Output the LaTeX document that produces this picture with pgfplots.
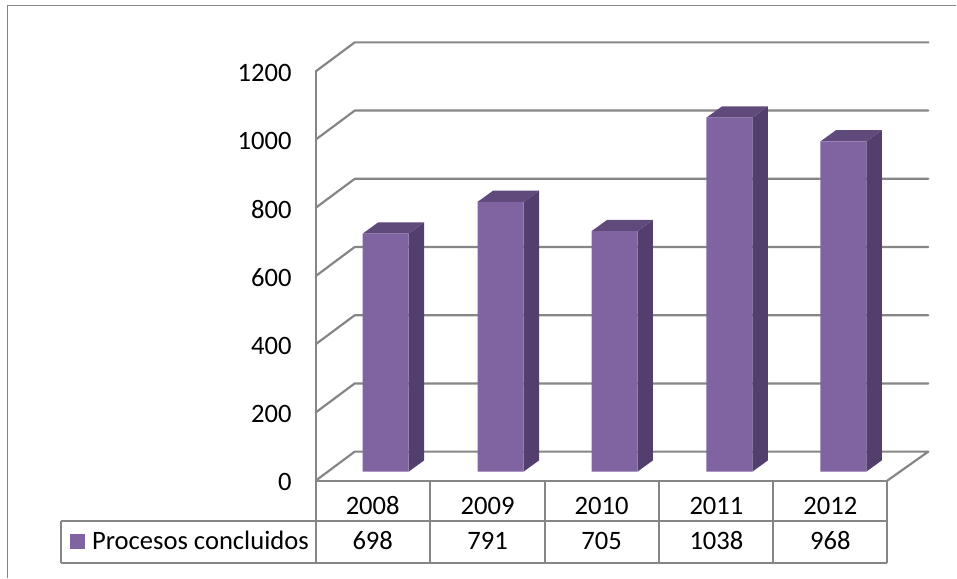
\documentclass[border=0pt]{standalone}
\usepackage{fontspec}
\setmainfont{Carlito}
\usepackage{pgfplots}
\pgfplotsset{compat=1.18}
\definecolor{barfront}{HTML}{8064A2}
\definecolor{bartop}{HTML}{604A7B}
\definecolor{barside}{HTML}{523F6D}
\definecolor{wall}{HTML}{868686}
\tikzset{
    wallline/.style={draw=wall, line width=2.2pt, line cap=round, line join=round},
    cell/.style={draw=wall, line width=2pt},
    lab/.style={anchor=base, inner sep=0pt},
}
\begin{document}
\begin{tikzpicture}
% x in picture units; y is the value, 0 at the foot of the bars
\begin{axis}[
    scale only axis, width=957pt, height=578pt,
    xmin=0, xmax=957, ymin=-310.6, ymax=1382.9,
    axis line style={draw=none},
    xtick=\empty,
    ytick={-26.4,173.6,373.6,573.6,773.6,973.6,1173.6},
    yticklabels={0,200,400,600,800,1000,1200},
    major tick length=0pt,
    tick style={draw=none},
    yticklabel style={xshift=292pt, yshift=-1.5pt, inner sep=0pt, anchor=east},
    font=\fontsize{26.6}{31}\selectfont,
    /pgf/number format/assume math mode=true,
    clip=false,
]
% outer frame
\addplot[draw=wall, line width=1.5pt] coordinates {(7.5,-310.6) (7.5,1366.8) (957,1366.8)};
% walls and gridlines
\addplot[wallline] coordinates {(316,-26.4) (316,1173.6)};
\addplot[wallline] coordinates {(316,-26.4) (355,58.6) (929,58.6) (888,-26.4)};
\addplot[wallline] coordinates {(316,173.6) (355,258.6) (929,258.6)};
\addplot[wallline] coordinates {(316,373.6) (355,458.6) (929,458.6)};
\addplot[wallline] coordinates {(316,573.6) (355,658.6) (929,658.6)};
\addplot[wallline] coordinates {(316,773.6) (355,858.6) (929,858.6)};
\addplot[wallline] coordinates {(316,973.6) (355,1058.6) (929,1058.6)};
\addplot[wallline] coordinates {(316,1173.6) (355,1258.6) (929,1258.6)};
% bar sides
\addplot[fill=barside, draw=none] coordinates {(409,0) (409,698) (424.5,731) (424.5,33)} --cycle;
\addplot[fill=barside, draw=none] coordinates {(524,0) (524,791) (539.5,824) (539.5,33)} --cycle;
\addplot[fill=barside, draw=none] coordinates {(638,0) (638,705) (653.5,738) (653.5,33)} --cycle;
\addplot[fill=barside, draw=none] coordinates {(753,0) (753,1038) (768.5,1071) (768.5,33)} --cycle;
\addplot[fill=barside, draw=none] coordinates {(867,0) (867,968) (882.5,1001) (882.5,33)} --cycle;
% bar tops
\addplot[fill=bartop, draw=none] coordinates {(363,698) (409,698) (424.5,731) (378.5,731)} --cycle;
\addplot[fill=bartop, draw=none] coordinates {(478,791) (524,791) (539.5,824) (493.5,824)} --cycle;
\addplot[fill=bartop, draw=none] coordinates {(592,705) (638,705) (653.5,738) (607.5,738)} --cycle;
\addplot[fill=bartop, draw=none] coordinates {(707,1038) (753,1038) (768.5,1071) (722.5,1071)} --cycle;
\addplot[fill=bartop, draw=none] coordinates {(821,968) (867,968) (882.5,1001) (836.5,1001)} --cycle;
% bar fronts
\addplot[ybar, bar width=46, fill=barfront, draw=none] coordinates {(386,698) (501,791) (615,705) (730,1038) (844,968)};
% data table
\addplot[cell] coordinates {(316,-26.4) (888,-26.4)};
\addplot[cell] coordinates {(61,-143.6) (888,-143.6)};
\addplot[cell] coordinates {(61,-266.6) (888,-266.6)};
\addplot[cell] coordinates {(61,-143.6) (61,-266.6)};
\addplot[cell] coordinates {(316,-26.4) (316,-266.6)};
\addplot[cell] coordinates {(430.5,-26.4) (430.5,-266.6)};
\addplot[cell] coordinates {(545,-26.4) (545,-266.6)};
\addplot[cell] coordinates {(659.5,-26.4) (659.5,-266.6)};
\addplot[cell] coordinates {(774,-26.4) (774,-266.6)};
\addplot[cell] coordinates {(888,-26.4) (888,-266.6)};
\addplot[fill=barfront, draw=none] coordinates {(70,-181.7) (85,-181.7) (85,-225.6) (70,-225.6)} --cycle;
\node[lab, anchor=base west] at (axis cs:92,-228.5) {Procesos concluidos};
\node[lab] at (axis cs:373,-126) {2008};
\node[lab] at (axis cs:488,-126) {2009};
\node[lab] at (axis cs:602,-126) {2010};
\node[lab] at (axis cs:717,-126) {2011};
\node[lab] at (axis cs:831,-126) {2012};
\node[lab] at (axis cs:373,-228.5) {698};
\node[lab] at (axis cs:488,-228.5) {791};
\node[lab] at (axis cs:602,-228.5) {705};
\node[lab] at (axis cs:717,-228.5) {1038};
\node[lab] at (axis cs:831,-228.5) {968};
\end{axis}
\end{tikzpicture}
\end{document}
